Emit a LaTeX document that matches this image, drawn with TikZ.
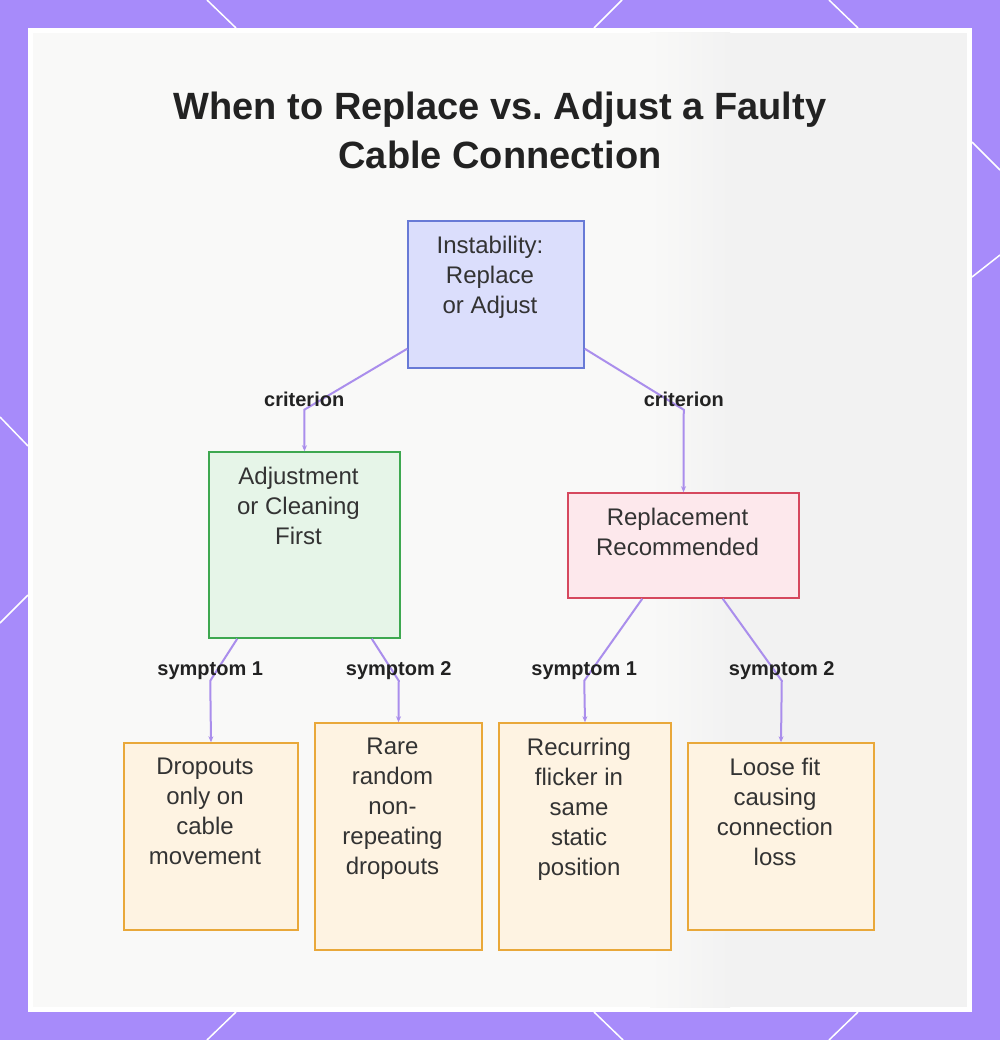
\documentclass[tikz,border=0pt]{standalone}
\usepackage{fontspec}
\setmainfont{Liberation Sans}
\usetikzlibrary{arrows.meta}

\definecolor{framepurple}{RGB}{167,139,250}
\definecolor{panelgray}{RGB}{249,249,248}
\definecolor{panelshade}{RGB}{242,242,242}
\definecolor{titlegray}{RGB}{34,34,34}
\definecolor{textgray}{RGB}{51,51,51}
\definecolor{linkpurple}{RGB}{170,142,236}
\definecolor{rootfill}{RGB}{219,222,252}
\definecolor{rootline}{RGB}{104,122,214}
\definecolor{adjfill}{RGB}{230,245,232}
\definecolor{adjline}{RGB}{62,168,80}
\definecolor{repfill}{RGB}{253,232,236}
\definecolor{repline}{RGB}{214,72,94}
\definecolor{leaffill}{RGB}{254,243,226}
\definecolor{leafline}{RGB}{233,168,58}

\begin{document}
\begin{tikzpicture}[x=1pt,y=-1pt]
    % Use the sans font and the box text size
    \tikzstyle{every node}=[font=\fontsize{24}{30}\selectfont, text=textgray]
    \tikzstyle{box}=[draw, line width=1.5pt, inner sep=0pt]
    \tikzstyle{rootbox}=[box, draw=rootline, fill=rootfill]
    \tikzstyle{adjbox}=[box, draw=adjline, fill=adjfill]
    \tikzstyle{repbox}=[box, draw=repline, fill=repfill]
    \tikzstyle{leafbox}=[box, draw=leafline, fill=leaffill]
    \tikzstyle{boxtext}=[anchor=north, xshift=-6pt, yshift=-16pt, align=center, inner sep=0pt]
    \tikzstyle{link}=[draw=linkpurple, line width=2pt, -{Stealth[length=6pt,width=5pt]}]
    \tikzstyle{tag}=[font=\fontsize{20}{24}\selectfont\bfseries, text=titlegray, inner sep=0pt]

    \useasboundingbox (0,0) rectangle (1000,1040);

    % Draw the purple frame with its white strokes
    \fill[framepurple] (0,0) rectangle (1000,1040);
    \foreach \a/\b/\c/\d in {207/0/236/28, 622/0/594/28, 829/0/858/28,
        236/1012/207/1040, 594/1012/623/1040, 858/1012/829/1040,
        0/417/28/446, 28/595/0/623, 972/142/1000/170, 1000/255/972/277}
        \draw[white, line width=1.5pt] (\a,\b) -- (\c,\d);

    % Draw the panel, a bit greyer on the right
    \fill[white] (28,28) rectangle (972,1012);
    \fill[panelgray] (33,33) rectangle (967,1007);
    \shade[left color=panelgray, right color=panelshade] (650,33) rectangle (730,1007);
    \fill[panelshade] (729,33) rectangle (967,1007);

    % Title
    \node[anchor=north, inner sep=0pt, align=center, text=titlegray,
        font=\fontsize{38}{49}\selectfont\bfseries] (title) at (500,92)
        {When to Replace vs.\ Adjust a Faulty\\Cable Connection};

    % Draw the boxes
    \node[rootbox, minimum width=176pt, minimum height=147pt,
        label={[boxtext]north:{Instability:\\Replace\\or Adjust}}] (root) at (496,294.5) {};
    \node[adjbox, minimum width=191pt, minimum height=186pt,
        label={[boxtext]north:{Adjustment\\or Cleaning\\First}}] (adj) at (304.5,545) {};
    \node[repbox, minimum width=231pt, minimum height=105pt,
        label={[boxtext]north:{Replacement\\Recommended}}] (rep) at (683.5,545.5) {};
    \node[leafbox, minimum width=174pt, minimum height=187pt,
        label={[boxtext]north:{Dropouts\\only on\\cable\\movement}}] (l1) at (211,836.5) {};
    \node[leafbox, minimum width=167pt, minimum height=227pt,
        label={[boxtext]north:{Rare\\random\\non-\\repeating\\dropouts}}] (l2) at (398.5,836.5) {};
    \node[leafbox, minimum width=172pt, minimum height=227pt,
        label={[boxtext]north:{Recurring\\flicker in\\same\\static\\position}}] (l3) at (585,836.5) {};
    \node[leafbox, minimum width=186pt, minimum height=187pt,
        label={[boxtext]north:{Loose fit\\causing\\connection\\loss}}] (l4) at (781,836.5) {};

    % Draw the connectors with their labels at the bends
    \draw[link] ([yshift=20pt]root.south west) -- ++(-103,61)
        node[tag, yshift=10pt] {criterion} -- (adj.north);
    \draw[link] ([yshift=20pt]root.south east) -- ++(99,61)
        node[tag, yshift=10pt] {criterion} -- (rep.north);
    \draw[link] ([xshift=29pt]adj.south west) -- ++(-27,42)
        node[tag, yshift=10pt] {symptom 1} -- (l1.north);
    \draw[link] ([xshift=-29pt]adj.south east) -- ++(27,42)
        node[tag, yshift=10pt] {symptom 2} -- (l2.north);
    \draw[link] ([xshift=75pt]rep.south west) -- ++(-58,82)
        node[tag, yshift=10pt] {symptom 1} -- (l3.north);
    \draw[link] ([xshift=-77pt]rep.south east) -- ++(59,82)
        node[tag, yshift=10pt] {symptom 2} -- (l4.north);

\end{tikzpicture}
\end{document}
